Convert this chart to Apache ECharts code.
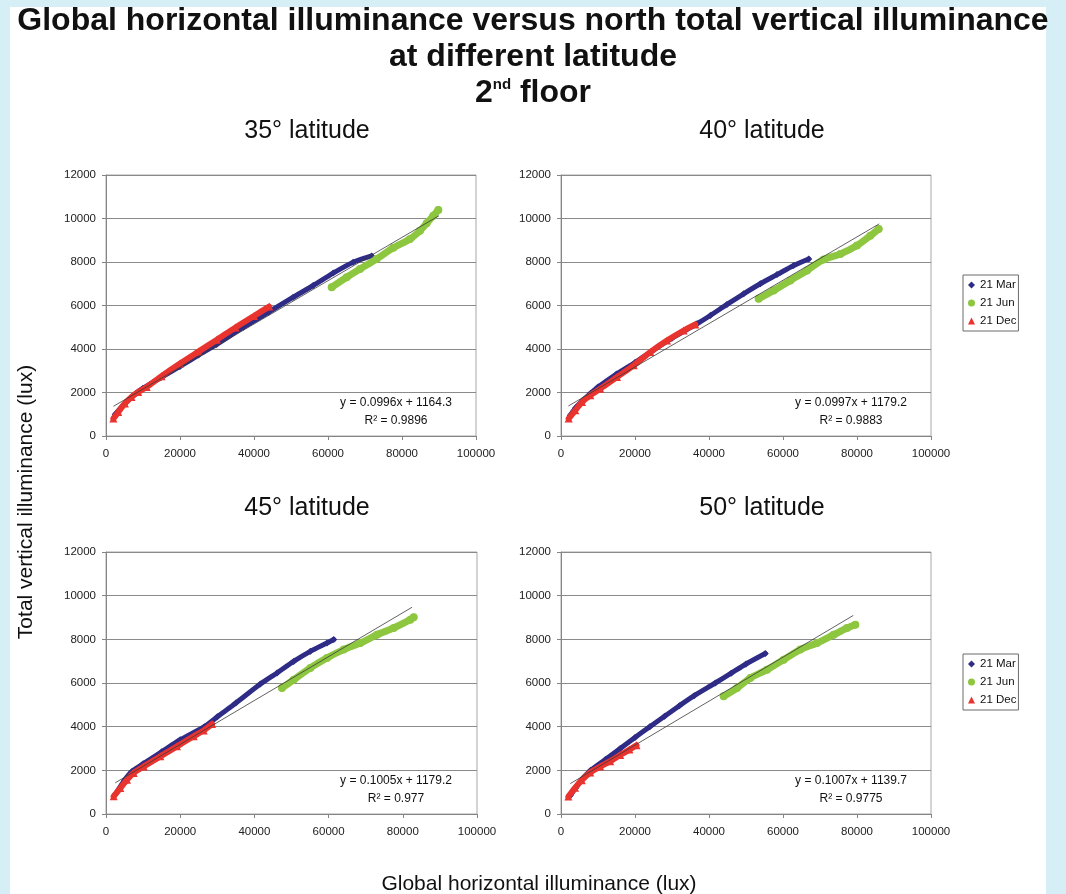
<!DOCTYPE html>
<html><head><meta charset="utf-8">
<script src="https://cdn.jsdelivr.net/npm/echarts@6/dist/echarts.min.js"></script>
<style>
html,body{margin:0;padding:0;background:#d6eef5;}
#paper{position:absolute;left:10px;top:7px;width:1036px;height:887px;background:#ffffff;}
#c{position:absolute;left:0;top:0;width:1066px;height:894px;}
</style>
</head><body><div id="paper"></div><div id="c"></div>
<script>
// ---------- data ----------
const panelTitles = ['35° latitude', '40° latitude', '45° latitude', '50° latitude'];
const seriesNames = ['21 Mar', '21 Jun', '21 Dec'];
const eqTexts = ['y = 0.0996x + 1164.3', 'y = 0.0997x + 1179.2', 'y = 0.1005x + 1179.2', 'y = 0.1007x + 1139.7'];
const r2Texts = ['R² = 0.9896', 'R² = 0.9883', 'R² = 0.977', 'R² = 0.9775'];

// 35° latitude
const mar35 = [[2500,1000],[5000,1480],[8000,1950],[10000,2200],[15000,2700],[20000,3200],[25000,3720],[29900,4210],[37100,5000],[43900,5690],[50600,6380],[56000,6920],[61400,7490],[66800,7990],[71800,8280]];
const jun35 = [[61000,6840],[65050,7300],[68650,7680],[73150,8140],[77660,8650],[82160,9060],[84860,9440],[86670,9780],[88470,10130],[89820,10390]];
const dec35 = [[2000,800],[3300,1100],[5100,1490],[6900,1790],[8700,2020],[11000,2250],[15000,2750],[20000,3330],[25000,3880],[30000,4430],[35000,4990],[40000,5520],[44100,5950]];
const trend35 = [[2000,1363],[90000,10128]];

// 40° latitude
const mar40 = [[2500,950],[4000,1300],[6000,1650],[8000,1960],[10000,2250],[15000,2850],[20000,3380],[25000,3950],[30000,4500],[36760,5160],[40360,5540],[44860,6050],[49370,6540],[53870,7000],[58380,7420],[62880,7840],[66940,8140]];
const jun40 = [[53420,6310],[57480,6690],[61980,7150],[66490,7610],[70990,8120],[75500,8370],[80000,8760],[83600,9210],[85860,9520]];
const dec40 = [[2070,800],[3870,1180],[5680,1560],[7930,1870],[10630,2170],[15140,2710],[19640,3250],[24140,3860],[28650,4390],[33150,4850],[36300,5130]];
const trend40 = [[2000,1379],[86000,9753]];

// 45° latitude
const mar45 = [[2500,900],[5000,1550],[7000,1950],[10000,2300],[15000,2850],[20000,3400],[26500,4000],[30000,4450],[35000,5080],[41600,5950],[46090,6460],[50580,6990],[55080,7450],[59570,7830],[61370,7990]];
const jun45 = [[47440,5770],[50580,6150],[55080,6690],[59570,7150],[64060,7530],[68550,7830],[73050,8210],[77540,8520],[82030,8900],[82930,9010]];
const dec45 = [[2070,810],[3860,1190],[5660,1570],[7460,1880],[10150,2180],[14650,2640],[19140,3100],[23630,3560],[26330,3830],[28570,4120]];
const trend45 = [[2500,1430],[82500,9470]];

// 50° latitude
const mar50 = [[2500,850],[4000,1200],[6000,1650],[8000,2000],[12000,2500],[16000,3000],[20000,3500],[24000,4000],[28000,4480],[32000,4960],[36000,5420],[41700,6000],[46000,6450],[50000,6870],[55200,7350]];
const jun50 = [[43960,5390],[47570,5770],[51170,6230],[55680,6610],[60180,7070],[64680,7530],[69190,7830],[73690,8210],[77300,8520],[79550,8670]];
const dec50 = [[2000,800],[3800,1200],[5600,1550],[7900,1900],[10600,2170],[13300,2420],[16000,2700],[18500,2950],[20400,3150]];
const trend50 = [[2500,1392],[79000,9095]];

const panelData = [
  [mar35, jun35, dec35, trend35],
  [mar40, jun40, dec40, trend40],
  [mar45, jun45, dec45, trend45],
  [mar50, jun50, dec50, trend50]
];

// ---------- layout / style ----------
const FONT = '"Liberation Sans", Arial, Helvetica, sans-serif';
const grids = [
  {left:106, top:175, width:370, height:261},
  {left:561, top:175, width:370, height:261},
  {left:106, top:552, width:371, height:262},
  {left:561, top:552, width:370, height:262}
];
const colors = ['#2e2c86', '#8dc63f', '#e8332e'];
const symbols = ['diamond', 'circle', 'triangle'];
const symbolSizes = [7, 8, 8];
const lineWidths = [5, 7, 6];

const axisGray = '#858585';
const xAxes = [], yAxes = [], series = [], graphics = [];
const plainNum = v => String(v);
grids.forEach((g, i) => {
  xAxes.push({
    type:'value', gridIndex:i, min:0, max:100000, interval:20000,
    axisLine:{show:true, onZero:false, lineStyle:{color:axisGray, width:1}},
    axisTick:{show:true, length:4, lineStyle:{color:axisGray}},
    axisLabel:{fontSize:11.5, color:'#222', margin:12, fontFamily:FONT, formatter:plainNum},
    splitLine:{show:false}
  });
  yAxes.push({
    type:'value', gridIndex:i, min:0, max:12000, interval:2000,
    axisLine:{show:true, onZero:false, lineStyle:{color:axisGray, width:1}},
    axisTick:{show:true, length:4, lineStyle:{color:axisGray}},
    axisLabel:{fontSize:11.5, color:'#222', margin:10, fontFamily:FONT, formatter:plainNum},
    splitLine:{show:true, lineStyle:{color:'#8a8a8a', width:1}}
  });
  const d = panelData[i];
  for (let s = 0; s < 3; s++) {
    series.push({
      type:'line', name:seriesNames[s], xAxisIndex:i, yAxisIndex:i,
      data:d[s], symbol:symbols[s], symbolSize:symbolSizes[s], showSymbol:true,
      smooth:0.25, lineStyle:{color:colors[s], width:lineWidths[s], cap:'round', join:'round'},
      itemStyle:{color:colors[s]}, z:2 + s, silent:true
    });
  }
  series.push({
    type:'line', xAxisIndex:i, yAxisIndex:i, data:d[3], symbol:'none',
    lineStyle:{color:'#3a3a3a', width:0.8}, z:10, silent:true
  });
  graphics.push({type:'text', x:g.left + 201, y:g.top - 44,
    style:{text:panelTitles[i], font:'25px ' + FONT, fill:'#111',
      align:'center', verticalAlign:'middle', textAlign:'center', textVerticalAlign:'middle'}});
  graphics.push({type:'text', x:g.left + 290, y:g.top + g.height - 33,
    style:{text:eqTexts[i], font:'12px ' + FONT, fill:'#111',
      align:'center', verticalAlign:'middle', textAlign:'center', textVerticalAlign:'middle'}});
  graphics.push({type:'text', x:g.left + 290, y:g.top + g.height - 15,
    style:{text:r2Texts[i], font:'12px ' + FONT, fill:'#111',
      align:'center', verticalAlign:'middle', textAlign:'center', textVerticalAlign:'middle'}});
});

// main title
const titleLines = ['Global horizontal illuminance versus north total vertical illuminance', 'at different latitude'];
graphics.push({type:'text', x:533, y:21,
  style:{text:titleLines[0], font:'bold 32px ' + FONT, fill:'#111',
    align:'center', verticalAlign:'middle', textAlign:'center', textVerticalAlign:'middle'}});
graphics.push({type:'text', x:533, y:57,
  style:{text:titleLines[1], font:'bold 32px ' + FONT, fill:'#111',
    align:'center', verticalAlign:'middle', textAlign:'center', textVerticalAlign:'middle'}});
graphics.push({type:'text', x:533, y:93,
  style:{text:'{a|2}{b|nd}{a| floor}', fill:'#111',
    rich:{a:{font:'bold 32px ' + FONT, fill:'#111'}, b:{font:'bold 15px ' + FONT, fill:'#111', verticalAlign:'top'}},
    align:'center', verticalAlign:'middle', textAlign:'center', textVerticalAlign:'middle'}});
graphics.push({type:'text', x:26, y:502, rotation:Math.PI/2,
  style:{text:'Total vertical illuminance (lux)', font:'21px ' + FONT, fill:'#111',
    align:'center', verticalAlign:'middle', textAlign:'center', textVerticalAlign:'middle'}});
graphics.push({type:'text', x:539, y:884,
  style:{text:'Global horizontal illuminance (lux)', font:'21px ' + FONT, fill:'#111',
    align:'center', verticalAlign:'middle', textAlign:'center', textVerticalAlign:'middle'}});

const legendBase = {
  orient:'vertical', left:963, itemWidth:7, itemHeight:7, itemGap:6,
  padding:[4,2,4,5], borderColor:'#6a6a6a', borderWidth:1, backgroundColor:'#fff',
  textStyle:{fontSize:11.5, color:'#111', fontFamily:FONT},
  selectedMode:false,
  data:seriesNames.map((n, k) => ({name:n, icon:symbols[k]}))
};

const chart = echarts.init(document.getElementById('c'), null, {renderer:'canvas'});
chart.setOption({
  backgroundColor:'transparent',
  animation:false,
  textStyle:{fontFamily:FONT},
  grid:grids.map(g => Object.assign({show:true, borderColor:'#a8a8a8', borderWidth:1, backgroundColor:'transparent'}, g)),
  xAxis:xAxes,
  yAxis:yAxes,
  legend:[Object.assign({top:275}, legendBase), Object.assign({top:654}, legendBase)],
  series:series,
  graphic:{elements:graphics}
});
</script>
</body></html>
